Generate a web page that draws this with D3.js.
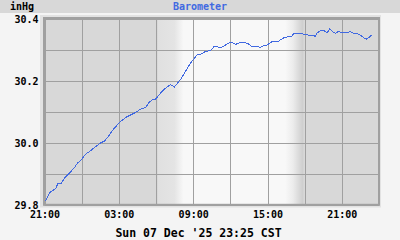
<!DOCTYPE html>
<html><head><meta charset="utf-8">
<script src="https://cdn.jsdelivr.net/npm/d3@7"></script>
<style>
body{margin:0;background:#f4f4f4}
svg{display:block}
text{font-family:"DejaVu Sans Mono",monospace;font-weight:bold}
</style>
</head><body>
<svg id="c" width="400" height="240"></svg>
<script>
// ---- data (Sat 06 Dec 21:00 -> Sun 07 Dec) ----
const times = ["21:05","21:29","21:53","22:04","22:21","22:42","23:06","23:22","23:41","23:58",
  "00:19","00:43","01:07","01:28","01:50","02:11","02:28","02:52","03:08","03:32",
  "03:56","04:20","04:45","05:09","05:25","05:41","05:57","06:21","06:46","07:10",
  "07:29","07:50","08:03","08:18","08:32","08:47","09:03","09:19","09:35","09:59",
  "10:24","10:40","10:56","11:12","11:36","11:52","12:08","12:25","12:40","12:57",
  "13:13","13:29","13:45","14:10","14:26","14:41","14:58","15:22","15:54","16:18",
  "16:35","16:59","17:07","17:39","17:55","18:19","18:43","18:52","19:00","19:16",
  "19:35","19:49","20:01","20:13","20:29","20:44","21:02","21:25","21:41","21:57",
  "22:14","22:29","22:45","22:59","23:10","23:23"];
const values = [29.813,29.842,29.851,29.867,29.869,29.890,29.906,29.917,29.935,29.944,
  29.963,29.974,29.987,29.998,30.005,30.022,30.039,30.057,30.068,30.081,
  30.089,30.097,30.108,30.113,30.129,30.138,30.140,30.159,30.176,30.187,
  30.180,30.197,30.208,30.224,30.241,30.256,30.270,30.283,30.285,30.294,
  30.297,30.309,30.310,30.306,30.315,30.321,30.324,30.317,30.321,30.324,
  30.323,30.318,30.310,30.310,30.307,30.313,30.315,30.326,30.328,30.338,
  30.341,30.344,30.353,30.352,30.350,30.347,30.347,30.342,30.354,30.361,
  30.361,30.354,30.368,30.359,30.353,30.359,30.355,30.356,30.358,30.353,
  30.353,30.347,30.339,30.334,30.339,30.347];
const xTickLabels = ["21:00","03:00","09:00","15:00","21:00"];
const yTickLabels = ["29.8","30.0","30.2","30.4"];
const dayShade = ["06:07","08:13","16:26","17:59"]; // dawn start/end, dusk start/end (Dec 07)
const title = "Barometer";
const unitLabel = "inHg";
const footer = "Sun 07 Dec '25 23:25 CST";

// ---- helpers ----
function parseSeq(arr, startDay){
  let day = startDay, prev = -1;
  return arr.map(s => {
    const [h,m] = s.split(":").map(Number);
    const mins = h*60+m;
    if (prev >= 0 && mins < prev) day++;
    prev = mins;
    return new Date(2025, 11, day, h, m);
  });
}
const dates = parseSeq(times, 6);
const data = dates.map((d,i)=>({t:d, v:values[i]}));
const tickDates = parseSeq(xTickLabels, 6);
const shadeDates = dayShade.map(s=>{const [h,m]=s.split(":").map(Number);return new Date(2025,11,7,h,m);});

const svg = d3.select("#c");
const W = 400, H = 240;
const L = 44.5, R = 379, T = 18.7, B = 204.7;

const x = d3.scaleTime().domain([new Date(2025,11,6,21,0), new Date(2025,11,8,0,0)]).range([L, R]);
const y = d3.scaleLinear().domain([29.8, 30.4]).range([B, T]);

// background
svg.append("rect").attr("width",W).attr("height",H).attr("fill","#f4f4f4");
svg.append("rect").attr("width",W).attr("height",13).attr("fill","#d8d8d8");
svg.append("rect").attr("x",40).attr("y",15).attr("width",341).attr("height",192.5).attr("fill","#e2e2e2");

// day/night gradient
const defs = svg.append("defs");
const g = defs.append("linearGradient").attr("id","day").attr("gradientUnits","userSpaceOnUse")
  .attr("x1",L).attr("x2",R).attr("y1",0).attr("y2",0);
const off = d => (x(d)-L)/(R-L);
const night = "#d8d8d8", day = "#f8f8f8";
const stops = [
  [0, night],[off(shadeDates[0]), night],[off(shadeDates[0])+0.003, "#e0e0e0"],
  [off(shadeDates[0])+ (off(shadeDates[1])-off(shadeDates[0]))*0.65, "#e4e4e4"],
  [off(shadeDates[1]), day],[off(shadeDates[2]), day],
  [off(shadeDates[2])+(off(shadeDates[3])-off(shadeDates[2]))*0.4, "#ececec"],
  [off(shadeDates[3])-0.006, "#cfcfcf"],[off(shadeDates[3]), night],[1, night]];
stops.forEach(s=>g.append("stop").attr("offset",s[0]).attr("stop-color",s[1]));
svg.append("rect").attr("x",L).attr("y",T).attr("width",R-L).attr("height",B-T).attr("fill","url(#day)");

// grid
const gridX = d3.timeHour.every(3).range(x.domain()[0], x.domain()[1]);
svg.append("g").selectAll("line").data(gridX).join("line")
  .attr("x1",d=>Math.round(x(d))+0.5).attr("x2",d=>Math.round(x(d))+0.5)
  .attr("y1",T).attr("y2",B).attr("stroke","#a0a0a0").attr("stroke-width",1);
const gridY = d3.range(0,7).map(i=>29.8+i*0.1);
svg.append("g").selectAll("line").data(gridY).join("line")
  .attr("x1",L).attr("x2",R).attr("y1",d=>Math.round(y(d))+0.5).attr("y2",d=>Math.round(y(d))+0.5)
  .attr("stroke","#a0a0a0").attr("stroke-width",1);

// border
svg.append("rect").attr("x",L-0.5).attr("y",T-0.7).attr("width",R-L+0.5).attr("height",B-T+0.8)
  .attr("fill","none").attr("stroke","#a0a0a0").attr("stroke-width",2);

// line
const line = d3.line().x(d=>x(d.t)).y(d=>y(d.v));
svg.append("path").datum(data).attr("d",line).attr("fill","none")
  .attr("stroke","#4169e1").attr("stroke-width",1).attr("shape-rendering","crispEdges");

// axes
const xAxis = d3.axisBottom(x).tickValues(tickDates).tickFormat((d,i)=>xTickLabels[i]).tickSize(0).tickPadding(0);
const xg = svg.append("g").attr("transform",`translate(0,${B+6})`).call(xAxis);
xg.select(".domain").remove();
xg.selectAll("text").attr("font-size",10).attr("fill","#000").attr("font-family","DejaVu Sans Mono").attr("font-weight","bold").attr("dy","0.75em");

const yVals = yTickLabels.map(Number);
const yAxis = d3.axisLeft(y).tickValues(yVals).tickFormat((d,i)=>yTickLabels[i]).tickSize(0).tickPadding(0);
const yg = svg.append("g").attr("transform",`translate(38.5,0)`).call(yAxis);
yg.select(".domain").remove();
yg.selectAll("text").attr("font-size",10).attr("fill","#000").attr("font-family","DejaVu Sans Mono").attr("font-weight","bold").attr("dy","0.35em");

// titles
svg.append("text").attr("x",200).attr("y",10).attr("text-anchor","middle").attr("font-size",10).attr("fill","#4169e1").text(title);
svg.append("text").attr("x",10).attr("y",10).attr("font-size",10).attr("fill","#000").text(unitLabel);
svg.append("text").attr("x",198.5).attr("y",237).attr("text-anchor","middle").attr("font-size",11.5).attr("fill","#000").text(footer);
</script>
</body></html>
